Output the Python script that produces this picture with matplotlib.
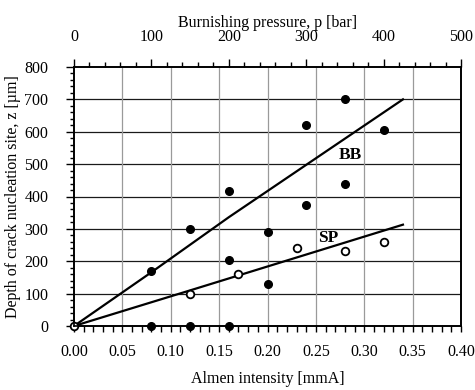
"""Depth of crack nucleation site vs Almen intensity / burnishing pressure."""

import matplotlib

matplotlib.use("Agg")
import matplotlib.pyplot as plt
from matplotlib.ticker import MultipleLocator

plt.rcParams["font.family"] = ["Liberation Serif", "DejaVu Serif"]

# BB (ball burnishing) - filled points, Almen-equivalent x [mmA], z [um]
bb_x = [0.08, 0.12, 0.16, 0.08, 0.12, 0.16, 0.16, 0.20, 0.20, 0.24, 0.24,
        0.28, 0.28, 0.32]
bb_z = [0, 0, 0, 171, 300, 416, 205, 290, 131, 620, 374, 700, 439, 606]

# SP (shot peening) - open points
sp_x = [0.00, 0.12, 0.17, 0.23, 0.28, 0.32]
sp_z = [0, 100, 161, 241, 231, 261]

# trend lines
bb_fit_x = [0.00, 0.08, 0.16, 0.34]
bb_fit_z = [0, 166, 336, 700]
sp_fit_x = [0.00, 0.12, 0.34]
sp_fit_z = [0, 110, 313]

FS = 11.5
W, H = 475, 390
fig = plt.figure(figsize=(W / 100, H / 100), dpi=100)
ax = fig.add_axes([74 / W, 1 - 326 / H, (461 - 74) / W, (326 - 67) / H])

ax.set_xlim(0, 0.40)
ax.set_ylim(0, 800)

# grid: dark horizontals, grey verticals
for y in range(100, 800, 100):
    ax.axhline(y, color="#1a1a1a", linewidth=0.9, zorder=1)
for i in range(1, 8):
    ax.axvline(i * 0.05, color="#9a9a9a", linewidth=0.9, zorder=1)

ax.plot(bb_fit_x, bb_fit_z, color="black", linewidth=1.6, zorder=2)
ax.plot(sp_fit_x, sp_fit_z, color="black", linewidth=1.6, zorder=2)

ax.plot(bb_x, bb_z, "o", color="black", markersize=5.5, zorder=3,
        clip_on=False)
ax.plot(sp_x, sp_z, "o", markerfacecolor="white", markeredgecolor="black",
        markeredgewidth=1.3, markersize=5.5, zorder=4, clip_on=False)

ax.text(0.2855, 527, "BB", fontsize=12.5, fontweight="bold", ha="center",
        va="center")
ax.text(0.263, 272, "SP", fontsize=12.5, fontweight="bold", ha="center",
        va="center")

for side in ("top", "bottom", "left", "right"):
    ax.spines[side].set_linewidth(1.2)

ax.xaxis.set_major_locator(MultipleLocator(0.05))
ax.xaxis.set_minor_locator(MultipleLocator(0.01))
ax.yaxis.set_major_locator(MultipleLocator(100))
ax.yaxis.set_minor_locator(MultipleLocator(20))
ax.set_xticklabels([f"{v:.2f}" for v in ax.get_xticks()])

ax.tick_params(axis="x", which="major", direction="out", length=4.5,
               width=1, pad=8.5, labelsize=FS)
ax.tick_params(axis="x", which="minor", direction="out", length=4.5,
               width=1)
ax.tick_params(axis="y", which="major", direction="out", length=5.5,
               width=1, pad=13, labelsize=FS)
ax.tick_params(axis="y", which="minor", direction="out", length=3,
               width=1)

ax.set_xlabel("Almen intensity [mmA]", fontsize=FS)
ax.xaxis.set_label_coords(0.5, -0.175)
ax.set_ylabel("Depth of crack nucleation site, z [\u00b5m]", fontsize=FS)
ax.yaxis.set_label_coords(-0.137, 0.5)

# top axis: burnishing pressure
top = ax.twiny()
top.set_xlim(0, 500)
top.xaxis.set_major_locator(MultipleLocator(100))
top.xaxis.set_minor_locator(MultipleLocator(20))
top.tick_params(axis="x", which="major", direction="out", length=6,
                width=1, pad=9.5, labelsize=FS)
top.tick_params(axis="x", which="minor", direction="out", length=3.5,
                width=1)
top.set_xlabel("Burnishing pressure, p [bar]", fontsize=FS)
top.xaxis.set_label_coords(0.5, 1.155)
for side in ("top", "bottom", "left", "right"):
    top.spines[side].set_linewidth(1.2)

fig.savefig("out.png", dpi=100, facecolor="white")
